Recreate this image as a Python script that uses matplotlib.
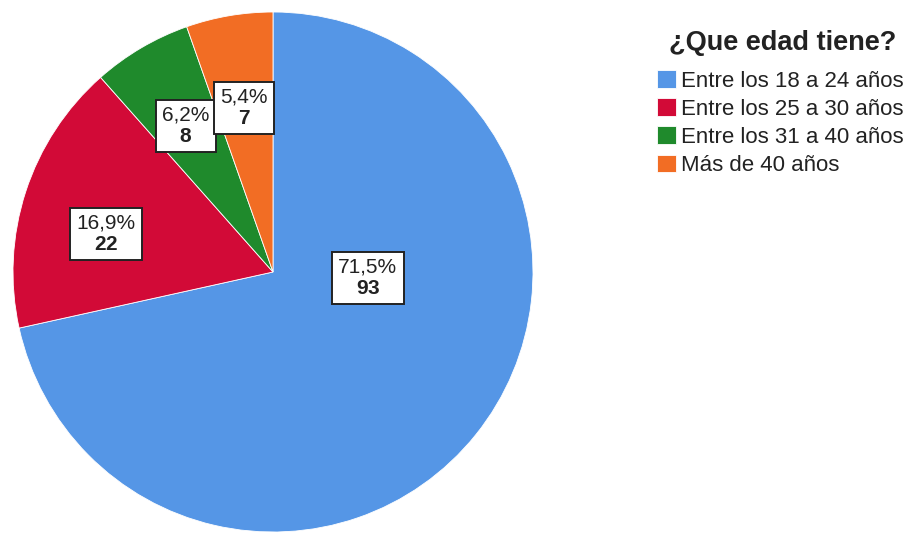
import matplotlib
matplotlib.use("Agg")
import matplotlib.pyplot as plt

plt.rcParams['font.family'] = ['Liberation Sans', 'DejaVu Sans']
plt.rcParams['mathtext.fontset'] = 'custom'
plt.rcParams['mathtext.bf'] = 'Liberation Sans:bold'
plt.rcParams['mathtext.rm'] = 'Liberation Sans'

# Data
categories = ["Entre los 18 a 24 años", "Entre los 25 a 30 años",
              "Entre los 31 a 40 años", "Más de 40 años"]
counts = [93, 22, 8, 7]
percents = ["71,5%", "16,9%", "6,2%", "5,4%"]
colors = ["#5596e6", "#d20a37", "#1f8a2c", "#f26d24"]
legend_title = "¿Que edad tiene?"

# label box centres (pie data coords, radius = 1)
label_pos = [(0.365, -0.023), (-0.642, 0.146), (-0.335, 0.562), (-0.112, 0.631)]

fig = plt.figure(figsize=(9.06, 5.35), dpi=100)
ax = fig.add_axes([13 / 906, 3 / 535, 520 / 906, 520 / 535])
wedges, _ = ax.pie(counts, colors=colors, startangle=90, counterclock=False,
                   radius=1, wedgeprops=dict(edgecolor="white", linewidth=0.6))
ax.set_xlim(-1, 1)
ax.set_ylim(-1, 1)
ax.set_aspect("equal")
ax.axis("off")

for (x, y), pct, n in zip(label_pos, percents, counts):
    ax.text(x, y, pct + "\n" + r"$\mathbf{" + str(n) + "}$", ha="center", va="center",
            fontsize=15, linespacing=1.15, color="#222222",
            bbox=dict(boxstyle="square,pad=0.3", facecolor="white",
                      edgecolor="#222222", linewidth=1.4))

fig.text(783 / 906, 1 - 50 / 535, legend_title, ha="center", va="baseline",
         fontsize=19.5, fontweight="bold", color="#222222")

leg = fig.legend(wedges, categories, loc="upper left",
                 bbox_to_anchor=(657 / 906, 1 - 70 / 535),
                 frameon=False, fontsize=16, handlelength=0.85, handleheight=0.85,
                 handletextpad=0.25, labelspacing=0.3, borderaxespad=0,
                 borderpad=0)
for t in leg.get_texts():
    t.set_color("#222222")

fig.savefig("out.png", dpi=100)
